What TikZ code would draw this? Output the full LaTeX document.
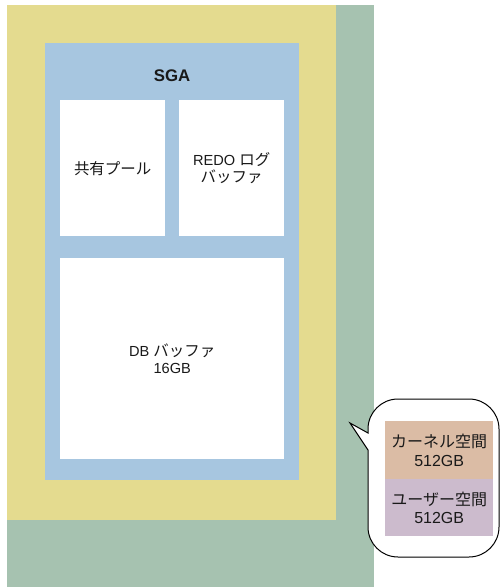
\documentclass[tikz,border=0pt]{standalone}
\usepackage{fontspec}
\setmainfont{Liberation Sans}
\newfontfamily\jp[Scale=1.06]{Noto Sans CJK JP}
\newfontfamily\jpb{Noto Sans CJK JP}
\definecolor{osgreen}{RGB}{166,194,176}
\definecolor{osyellow}{RGB}{228,219,143}
\definecolor{sgablue}{RGB}{167,198,224}
\definecolor{kernelc}{RGB}{219,188,165}
\definecolor{userc}{RGB}{204,187,205}
\begin{document}
\begin{tikzpicture}[x=1pt,y=-1pt,
  area/.style={draw=none,inner sep=0pt,anchor=north west},
  lbl/.style={align=center,font=\fontsize{14.6}{17}\selectfont,inner sep=0pt,text=black!90},
  clbl/.style={align=center,font=\fontsize{16}{18.5}\selectfont,inner sep=0pt,text=black!90}]
\useasboundingbox (0,0) rectangle (500,587);
% memory areas
\node[area,fill=osgreen,minimum width=367pt,minimum height=582pt] (os) at (7,5) {};
\node[area,fill=osyellow,minimum width=329pt,minimum height=515pt] (db) at (7,5) {};
\node[area,fill=sgablue,minimum width=254pt,minimum height=437pt] (sga) at (45,43) {};
\node[area,fill=white,minimum width=105pt,minimum height=136pt] (shared) at (60,100) {};
\node[area,fill=white,minimum width=105pt,minimum height=136pt] (redo) at (179,100) {};
\node[area,fill=white,minimum width=224pt,minimum height=201pt] (buffer) at (60,258) {};
% labels
\node[lbl,font=\fontsize{16.8}{19}\selectfont\bfseries] (sgalbl) at (172,76) {SGA};
\node[lbl] (sharedlbl) at (shared.center) {{\jp 共有プール}};
\node[lbl] (redolbl) at (redo.center) {REDO {\jp ログ}\\{\jp バッファ}};
\node[lbl] (bufferlbl) at (buffer.center) {DB {\jp バッファ}\\16GB};
% callout
\draw[line width=1pt,fill=white,line join=miter]
  (350,423) -- (368,433) -- (368,429) arc[start angle=180,end angle=90,radius=30pt]
  -- (469,399) arc[start angle=90,end angle=0,radius=30pt]
  -- (499,527) arc[start angle=0,end angle=-90,radius=30pt]
  -- (398,557) arc[start angle=-90,end angle=-180,radius=30pt]
  -- (368,450) -- cycle;
\node[area,fill=kernelc,minimum width=108pt,minimum height=58pt] (kernel) at (385,421) {};
\node[area,fill=userc,minimum width=108pt,minimum height=57pt] (user) at (385,479) {};
\node[clbl] (kernellbl) at (kernel.center) {{\jpb カーネル空間}\\512GB};
\node[clbl] (userlbl) at (user.center) {{\jpb ユーザー空間}\\512GB};
\end{tikzpicture}
\end{document}
